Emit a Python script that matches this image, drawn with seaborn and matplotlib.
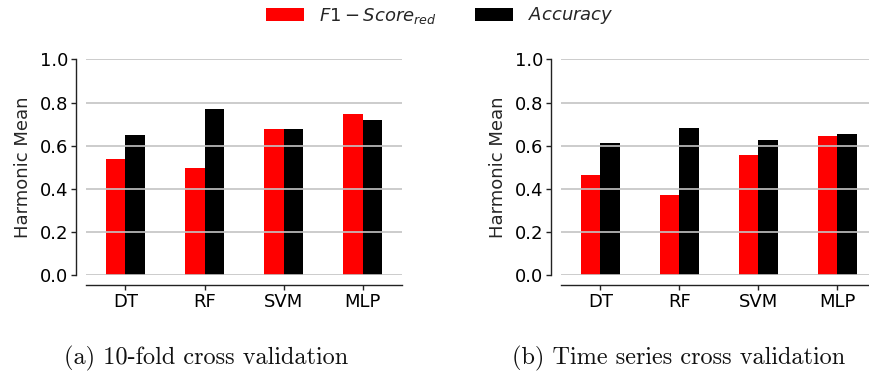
import matplotlib
matplotlib.use("Agg")
import matplotlib.pyplot as plt
import seaborn as sns
import pandas as pd

models = ["DT", "RF", "SVM", "MLP"]
series_names = ["$F1-Score_{red}$", "$Accuracy$"]
f1_kfold = [0.539, 0.497, 0.677, 0.747]
acc_kfold = [0.650, 0.770, 0.677, 0.719]
f1_ts = [0.464, 0.372, 0.557, 0.645]
acc_ts = [0.613, 0.682, 0.627, 0.654]
captions = ["(a) 10-fold cross validation", "(b) Time series cross validation"]
ylabel = "Harmonic Mean"
yticks = [0.0, 0.2, 0.4, 0.6, 0.8, 1.0]

sns.set_style("ticks")
plt.rcParams["font.family"] = ["DejaVu Sans"]
plt.rcParams["mathtext.fontset"] = "dejavusans"

def make_df(f1, acc):
    rows = []
    for m, v in zip(models, f1):
        rows.append({"model": m, "metric": series_names[0], "value": v})
    for m, v in zip(models, acc):
        rows.append({"model": m, "metric": series_names[1], "value": v})
    return pd.DataFrame(rows)

fig = plt.figure(figsize=(8.7, 3.73), dpi=100)
axL = fig.add_axes([86 / 870, 1 - 275.3 / 373, 316 / 870, 216 / 373])
axR = fig.add_axes([561 / 870, 1 - 275.3 / 373, 316 / 870, 216 / 373])

palette = {series_names[0]: "#ff0000", series_names[1]: "#000000"}

for ax, (f1, acc) in zip([axL, axR], [(f1_kfold, acc_kfold), (f1_ts, acc_ts)]):
    df = make_df(f1, acc)
    sns.barplot(data=df, x="model", y="value", hue="metric", palette=palette,
                width=0.5, gap=0, saturation=1, ax=ax, legend=(ax is axL),
                edgecolor="none", linewidth=0)
    ax.set_xlim(-0.5, 3.5)
    ax.set_ylim(0, 1.0)
    ax.set_yticks(yticks)
    ax.set_yticklabels([f"{t:.1f}" for t in yticks])
    ax.set_xlabel("")
    ax.set_ylabel(ylabel, fontsize=13, labelpad=5)
    ax.yaxis.grid(True, color="#c4c4c4", linewidth=1.2, zorder=5)
    ax.set_axisbelow(False)
    for p in ax.patches:
        p.set_zorder(2)
    ax.tick_params(axis="both", labelsize=13, length=3.5, width=1, colors="#222222", pad=2.5)
    ax.tick_params(axis="both", labelcolor="black")
    sns.despine(ax=ax, offset=7)
    for s in ["left", "bottom"]:
        ax.spines[s].set_linewidth(1.0)
        ax.spines[s].set_color("#222222")

leg = axL.get_legend()
handles = leg.legend_handles
labels = [t.get_text() for t in leg.get_texts()]
leg.remove()
fig.legend(handles, labels, loc="center", bbox_to_anchor=(440 / 870, 1 - 16 / 373),
           ncol=2, frameon=False, fontsize=13, handlelength=2.1, handleheight=0.7,
           columnspacing=2.1, handletextpad=0.85)

fig.text(206 / 870, 1 - 358 / 373, captions[0], ha="center", va="center",
         family="cmr10", fontsize=17.5, color="#111111")
fig.text(679 / 870, 1 - 358 / 373, captions[1], ha="center", va="center",
         family="cmr10", fontsize=17.5, color="#111111")

fig.savefig("out.png", dpi=100)
